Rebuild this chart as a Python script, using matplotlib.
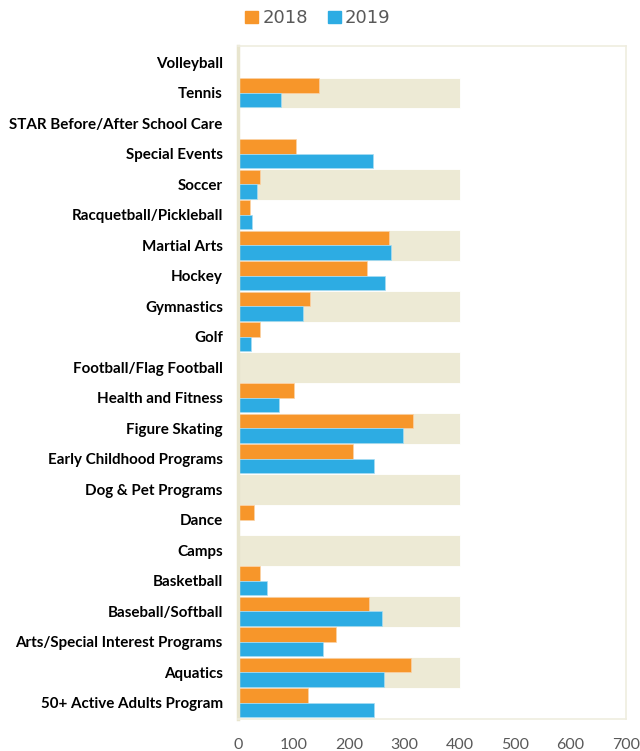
# Program participation 2018 vs 2019 - horizontal grouped bars
import matplotlib
matplotlib.use("Agg")
import matplotlib.pyplot as plt
from matplotlib.patches import Patch
import numpy as np

programs = ["Volleyball", "Tennis", "STAR Before/After School Care", "Special Events",
            "Soccer", "Racquetball/Pickleball", "Martial Arts", "Hockey", "Gymnastics",
            "Golf", "Football/Flag Football", "Health and Fitness", "Figure Skating",
            "Early Childhood Programs", "Dog & Pet Programs", "Dance", "Camps",
            "Basketball", "Baseball/Softball", "Arts/Special Interest Programs",
            "Aquatics", "50+ Active Adults Program"]
y2018 = [0, 146, 0, 104, 39, 22, 273, 233, 129, 39, 0, 101, 315, 207, 0, 29, 0,
         40, 237, 176, 313, 127]
y2019 = [0, 77, 0, 243, 34, 25, 276, 265, 118, 24, 0, 73, 298, 245, 0, 0, 0,
         53, 260, 153, 264, 246]
# light background series shown behind some rows
band = [0, 400, 0, 0, 400, 0, 400, 0, 400, 0, 400, 0, 400, 0, 400, 0, 400, 0,
        400, 0, 400, 0]
xticks = [0, 100, 200, 300, 400, 500, 600, 700]

orange = "#F7962A"
blue = "#2DACE3"
beige = "#EDEAD5"

fig = plt.figure(figsize=(6.4, 7.51), dpi=100)
ax = fig.add_axes([0.372, 0.0426, 0.606, 0.8964])

y = np.arange(len(programs))
ax.barh(y, band, height=1.0, color=beige, edgecolor="white", linewidth=0.6, zorder=1)
ax.barh(y - 0.24, y2018, height=0.48, color=orange, edgecolor="#FBD3A8", linewidth=0.5, zorder=2)
ax.barh(y + 0.24, y2019, height=0.48, color=blue, edgecolor="#A9DDF3", linewidth=0.5, zorder=2)

ax.set_xlim(0, 700)
ax.set_ylim(21.53, -0.54)
ax.set_xticks(xticks)
ax.set_xticklabels([str(t) for t in xticks], fontsize=11.5, color="#595959", family="Lato")
ax.set_yticks(y)
ax.set_yticklabels(programs, fontsize=10.9, fontweight="bold", family="Lato", color="black")
ax.tick_params(axis="both", length=0)
ax.tick_params(axis="x", pad=14)
ax.tick_params(axis="y", pad=11)

for s in ["top", "right", "bottom"]:
    ax.spines[s].set_color("#EFEDDF")
    ax.spines[s].set_linewidth(1.2)
ax.spines["left"].set_color("#E8E5CE")
ax.spines["left"].set_linewidth(2.5)

handles = [Patch(color=orange, label="2018"), Patch(color=blue, label="2019")]
fig.legend(handles=handles, loc="upper center", bbox_to_anchor=(0.497, 1.009), ncol=2,
           frameon=False, fontsize=13, handlelength=0.7, handleheight=0.7,
           handletextpad=0.25, columnspacing=1.1, labelcolor="#595959")

fig.savefig("out.png", dpi=100)
